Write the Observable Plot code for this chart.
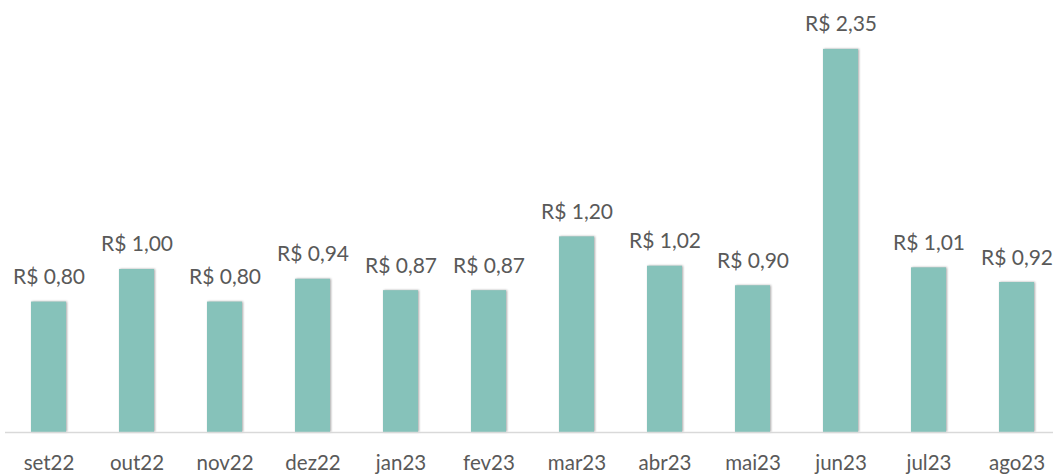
<!DOCTYPE html>
<html>
<head>
<meta charset="utf-8">
<script src="https://cdn.jsdelivr.net/npm/d3@7"></script>
<script src="https://cdn.jsdelivr.net/npm/@observablehq/plot@0.6"></script>
<style>
  body { margin: 0; background: #fff; }
  #chart svg { display: block; }
  g[aria-label="bar"] rect { filter: drop-shadow(1px 0px 1.2px rgba(0,0,0,0.35)); }
</style>
</head>
<body>
<div id="chart"></div>
<script>
const months = ["set22","out22","nov22","dez22","jan23","fev23","mar23","abr23","mai23","jun23","jul23","ago23"];
const values = [0.80, 1.00, 0.80, 0.94, 0.87, 0.87, 1.20, 1.02, 0.90, 2.35, 1.01, 0.92];

const data = months.map((m, i) => ({month: m, value: values[i]}));
const fmt = v => "R$ " + v.toFixed(2).replace(".", ",");
const font = "Lato, 'Open Sans', sans-serif";

const chart = Plot.plot({
  width: 1053,
  height: 475,
  marginLeft: 5,
  marginRight: 0,
  marginTop: 0,
  marginBottom: 43,
  style: {fontFamily: font, background: "#fff", color: "#595959"},
  x: {domain: months, range: [5, 1061], paddingInner: 0.6, paddingOuter: 0.3, label: null},
  y: {domain: [0, 2.65], axis: null},
  marks: [
    Plot.barY(data, {x: "month", y: "value", fill: "#86C2BA"}),
    Plot.ruleY([0], {stroke: "#d9d9d9", strokeWidth: 1.5}),
    Plot.text(data, {x: "month", y: "value", text: d => fmt(d.value), dy: -18, lineAnchor: "bottom", fontSize: 21, fill: "#595959"}),
    Plot.axisX({tickSize: 0, tickPadding: 23, fontSize: 20.5, fill: "#595959", label: null})
  ]
});
document.getElementById("chart").appendChild(chart);
</script>
</body>
</html>
